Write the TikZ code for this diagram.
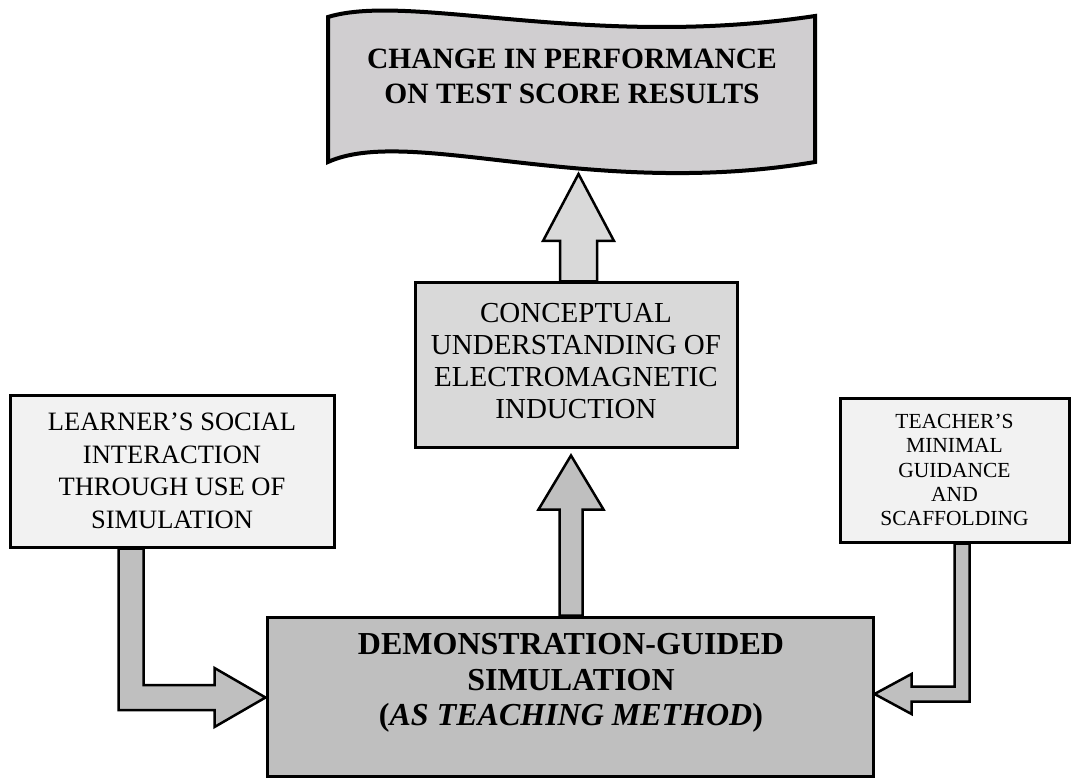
\documentclass[tikz,border=0pt]{standalone}
\usepackage{fontspec}
\setmainfont{Liberation Serif}
\usetikzlibrary{calc,backgrounds}
\definecolor{bannerfill}{RGB}{208,206,208}
\definecolor{midfill}{RGB}{217,217,217}
\definecolor{lightfill}{RGB}{242,242,242}
\definecolor{darkfill}{RGB}{191,191,191}
\begin{document}
\begin{tikzpicture}[x=1pt,y=-1pt,
  box/.style={draw=black, line width=3pt, inner sep=0pt, align=center, text=black},
  blockarrow/.style={draw=black, line width=2.5pt, line join=miter},
  txt/.style={inner sep=0pt, align=center, text=black}]
\useasboundingbox (0,0) rectangle (1072,778);

% top wavy banner
\node[txt, minimum width=487pt, minimum height=145pt] (banner) at (571.5,89.5) {};
\draw[line width=4pt, fill=bannerfill, line join=miter]
  (328,17) .. controls (410,-8) and (590,50) .. (815,16)
  -- (815,162) .. controls (590,200) and (410,125) .. (328,162) -- cycle;
\node[txt, font=\bfseries\fontsize{29.5}{35}\selectfont] (bannertxt) at (572,76)
  {CHANGE IN PERFORMANCE\\ON TEST SCORE RESULTS};

% middle box
\node[box, fill=midfill, minimum width=322pt, minimum height=164pt] (mid) at (576,365) {};
\node[txt, font=\fontsize{29}{32}\selectfont] (midtxt) at (576,361)
  {CONCEPTUAL\\UNDERSTANDING OF\\ELECTROMAGNETIC\\INDUCTION};

% left box
\node[box, fill=lightfill, minimum width=324pt, minimum height=152pt,
  font=\fontsize{26.5}{32.5}\selectfont] (lbox) at (172,471)
  {LEARNER’S SOCIAL\\INTERACTION\\THROUGH USE OF\\SIMULATION};

% right box
\node[box, fill=lightfill, minimum width=229pt, minimum height=144pt,
  font=\fontsize{21.5}{24.3}\selectfont] (rbox) at (954.5,470)
  {TEACHER’S\\MINIMAL\\GUIDANCE\\AND\\SCAFFOLDING};

% bottom box
\node[box, fill=darkfill, minimum width=606pt, minimum height=159pt] (bot) at (570,696.5) {};
\node[txt, font=\bfseries\fontsize{32}{35.5}\selectfont] (bottxt) at (571,683)
  {DEMONSTRATION-GUIDED\\SIMULATION\\(\textit{AS TEACHING METHOD})};

\begin{pgfonlayer}{background}
% arrow mid -> banner
\coordinate (a1s) at ($(mid.north)+(2.5,0)$);
\coordinate (a1t) at (578.5,174);
\path[blockarrow, fill=midfill] let \p1=(a1s), \p2=(a1t) in
  (\x1-18.5pt,\y1) -- (\x1-18.5pt,\y2-67pt) -- (\x1-35.5pt,\y2-67pt) -- (\x1,\y2)
  -- (\x1+35.5pt,\y2-67pt) -- (\x1+18.5pt,\y2-67pt) -- (\x1+18.5pt,\y1) -- cycle;

% arrow bot -> mid
\coordinate (a2s) at ($(bot.north)+(1,0)$);
\coordinate (a2t) at ($(mid.south)+(-5,7)$);
\path[blockarrow, fill=darkfill] let \p1=(a2s), \p2=(a2t) in
  (\x1-11.5pt,\y1) -- (\x1-11.5pt,\y2-54pt) -- (\x1-32.5pt,\y2-54pt) -- (\x1,\y2)
  -- (\x1+32.5pt,\y2-54pt) -- (\x1+11.5pt,\y2-54pt) -- (\x1+11.5pt,\y1) -- cycle;

% elbow arrow left box -> bottom box
\coordinate (a3s) at ($(lbox.south west)+(122.5,0)$);
\coordinate (a3t) at ($(bot.west)+(0,1)$);
\path[blockarrow, fill=darkfill] let \p1=(a3s), \p2=(a3t) in
  (\x1-12.5pt,\y1) -- (\x1-12.5pt,\y2-12.5pt) -- (\x2-51pt,\y2-12.5pt)
  -- (\x2-51pt,\y2-29.5pt) -- (\x2,\y2) -- (\x2-51pt,\y2+29.5pt)
  -- (\x2-51pt,\y2+12.5pt) -- (\x1+12.5pt,\y2+12.5pt) -- (\x1+12.5pt,\y1) -- cycle;

% elbow arrow right box -> bottom box
\coordinate (a4s) at ($(rbox.south west)+(123.5,0)$);
\coordinate (a4t) at ($(bot.east)+(0,-2.5)$);
\path[blockarrow, fill=darkfill] let \p1=(a4s), \p2=(a4t) in
  (\x1+7.5pt,\y1) -- (\x1+7.5pt,\y2-7.5pt) -- (\x2+37pt,\y2-7.5pt)
  -- (\x2+37pt,\y2-20pt) -- (\x2,\y2) -- (\x2+37pt,\y2+20pt)
  -- (\x2+37pt,\y2+7.5pt) -- (\x1-7.5pt,\y2+7.5pt) -- (\x1-7.5pt,\y1) -- cycle;
\end{pgfonlayer}
\end{tikzpicture}
\end{document}
